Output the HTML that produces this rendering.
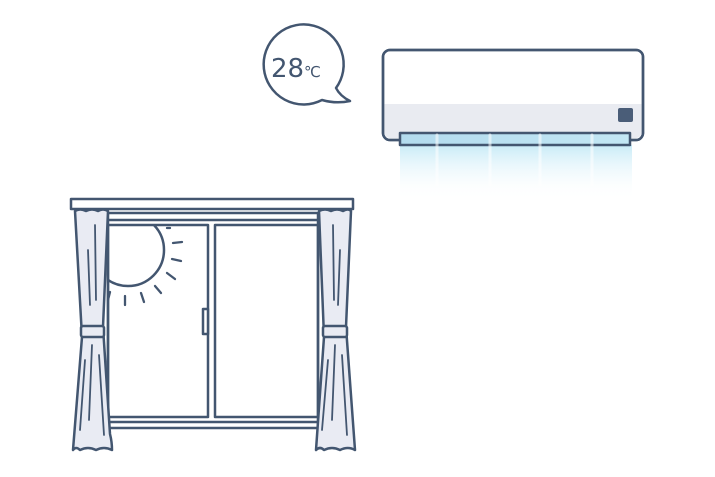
<!DOCTYPE html>
<html><head><meta charset="utf-8"><style>html,body{margin:0;padding:0;background:#fff;width:715px;height:477px;overflow:hidden}</style></head><body>
<svg width="715" height="477" viewBox="0 0 715 477" xmlns="http://www.w3.org/2000/svg">
<defs>
<linearGradient id="air" x1="0" y1="0" x2="0" y2="1"><stop offset="0" stop-color="#c9ebf7"/><stop offset="1" stop-color="#ffffff" stop-opacity="0"/></linearGradient>
<linearGradient id="vent" x1="0" y1="0" x2="1" y2="0"><stop offset="0" stop-color="#b3dbee"/><stop offset="1" stop-color="#c3e7f4"/></linearGradient>
<clipPath id="pane"><rect x="108" y="226" width="100" height="190"/></clipPath>
</defs>
<g fill="none" stroke="#435670" stroke-width="2.5" stroke-linecap="round" stroke-linejoin="round">
<!-- bubble -->
<path d="M336 88 A40 40 0 1 0 322 100 Q336 104 350 101 Q340 96 336 88 Z" fill="#fff"/>
<!-- AC -->
<rect x="400" y="145" width="232" height="55" fill="url(#air)" stroke="none"/>
<rect x="383" y="50" width="260" height="90" rx="7" fill="#fff"/>
<path d="M384.5 104 h257 v28 q0 6 -6 6 h-245 q-6 0 -6 -6 z" fill="#e9ebf1" stroke="none"/>
<rect x="383" y="50" width="260" height="90" rx="7"/>
<rect x="400" y="133" width="230" height="12" fill="url(#vent)"/>
<g stroke="#ffffff" stroke-width="3" opacity="0.55"><line x1="437" y1="135" x2="437" y2="185"/><line x1="490" y1="135" x2="490" y2="185"/><line x1="540" y1="135" x2="540" y2="185"/><line x1="592" y1="135" x2="592" y2="185"/></g>
<rect x="618" y="108" width="15" height="14" rx="2" fill="#4a5d78" stroke="none"/>
<!-- window -->
<rect x="71" y="199" width="282" height="10" fill="#fff"/>
<line x1="108" y1="213" x2="318" y2="213"/>
<line x1="108" y1="220" x2="318" y2="220"/>
<line x1="108" y1="213" x2="108" y2="428"/>
<line x1="318" y1="213" x2="318" y2="428"/>
<rect x="108" y="225" width="100" height="192"/>
<rect x="215" y="225" width="103" height="192"/>
<line x1="108" y1="422" x2="318" y2="422"/>
<line x1="108" y1="428" x2="318" y2="428"/>
<rect x="203" y="309" width="5" height="25" fill="#fff"/>
<circle cx="128" cy="250" r="36" clip-path="url(#pane)"/>
<g stroke-width="2.3"><line x1="173" y1="243" x2="182" y2="242"/><line x1="172" y1="259" x2="181" y2="261"/><line x1="167" y1="273" x2="175" y2="279"/><line x1="155" y1="286" x2="161" y2="293"/><line x1="141" y1="293" x2="144" y2="302"/><line x1="125" y1="296" x2="125" y2="305"/><line x1="110" y1="292" x2="108" y2="300"/><line x1="167" y1="228" x2="170" y2="228"/></g>
<!-- left curtain -->
<path d="M75 211 Q80 208 86 211 Q92 208 98 211 Q103 208 108 211 L103 327 L110 434 Q112 442 112 450 Q104 446 96 450 Q88 446 80 450 Q76 446 73 450 L82 337 Z" fill="#e9ebf3"/>
<rect x="81" y="326" width="23" height="11" rx="2" fill="#e9ebf3"/>
<g stroke-width="1.8"><path d="M95 225 L96 300"/><path d="M88 250 L90 305"/><path d="M92 345 L89 420"/><path d="M99 355 L104 435"/><path d="M85 360 L80 430"/></g>
<!-- right curtain -->
<path d="M319 211 Q325 208 331 211 Q337 208 343 211 Q348 208 351 211 L346 327 L355 450 Q348 446 340 450 Q332 446 324 450 Q320 446 316 450 L324 337 Z" fill="#e9ebf3"/>
<rect x="323" y="326" width="24" height="11" rx="2" fill="#e9ebf3"/>
<g stroke-width="1.8"><path d="M333 225 L334 300"/><path d="M340 250 L338 305"/><path d="M335 345 L332 420"/><path d="M342 355 L347 435"/><path d="M328 360 L322 430"/></g>
</g>
<text x="271" y="77" font-family="DejaVu Sans, Liberation Sans, sans-serif" font-size="26" fill="#435670">28</text>
<text x="304" y="77" font-family="DejaVu Sans, Liberation Sans, sans-serif" font-size="15" fill="#435670">℃</text>
</svg>
</body></html>
